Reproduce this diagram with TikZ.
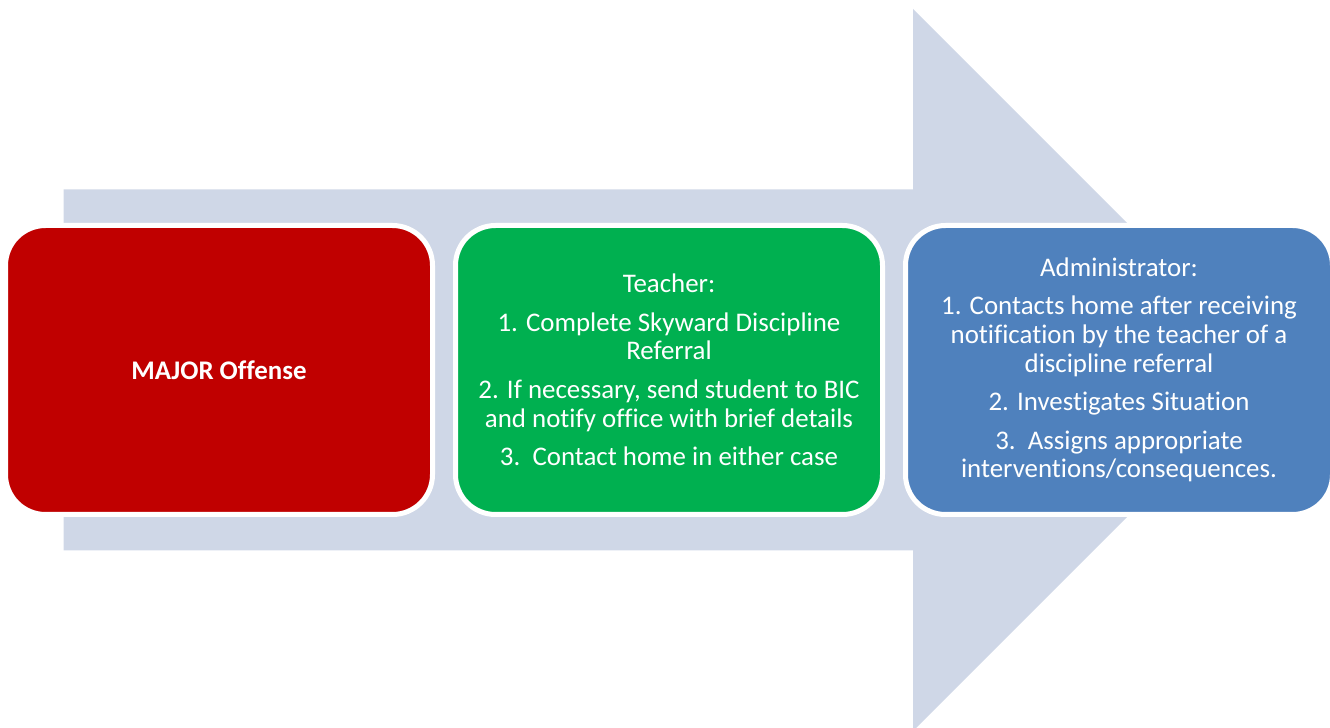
\documentclass[tikz,border=0pt]{standalone}
\usepackage{fontspec}
\setmainfont{Carlito}[Ligatures=NoCommon]
\definecolor{arrowgray}{HTML}{CFD7E7}
\definecolor{majorred}{HTML}{C00000}
\definecolor{teachgreen}{HTML}{00B050}
\definecolor{adminblue}{HTML}{4F81BD}
\begin{document}
\begin{tikzpicture}[
            stage/.style={rectangle, draw=white, line width=0.1cm, text=white, minimum width=8.54cm, minimum height=5.78cm, rounded corners=0.8cm, align=center, font=\fontsize{15.3pt}{16.3pt}\selectfont, inner sep=0pt},
            offense/.style={stage, fill=majorred},
            teacher/.style={stage, fill=teachgreen},
            admin/.style={stage, fill=adminblue}
        ]
        \useasboundingbox (0,0) rectangle (26.6,14.54);

        % Seta de fundo
        \fill[arrowgray] (1.27,3.53) -- (1.27,10.75) -- (18.26,10.75) -- (18.26,14.36)
            -- (25.48,7.14) -- (18.26,-0.08) -- (18.26,3.53) -- cycle;

        % Etapas
        \node[offense] (major) at (4.38,7.14) {\textbf{MAJOR Offense}};
        \node[teacher] (teacher-step) at (13.38,7.14) {Teacher:\\[5.6pt]
            1. Complete Skyward Discipline\\Referral\\[5.6pt]
            2. If necessary, send student to BIC\\and notify office with brief details\\[5.6pt]
            3.\ \ Contact home in either case};
        \node[admin] (admin-step) at (22.38,7.14) {Administrator:\\[5.6pt]
            1. Contacts home after receiving\\notification by the teacher of a\\discipline referral\\[5.6pt]
            2. Investigates Situation\\[5.6pt]
            3.\ \ Assigns appropriate\\interventions/consequences.};

    \end{tikzpicture}
\end{document}
